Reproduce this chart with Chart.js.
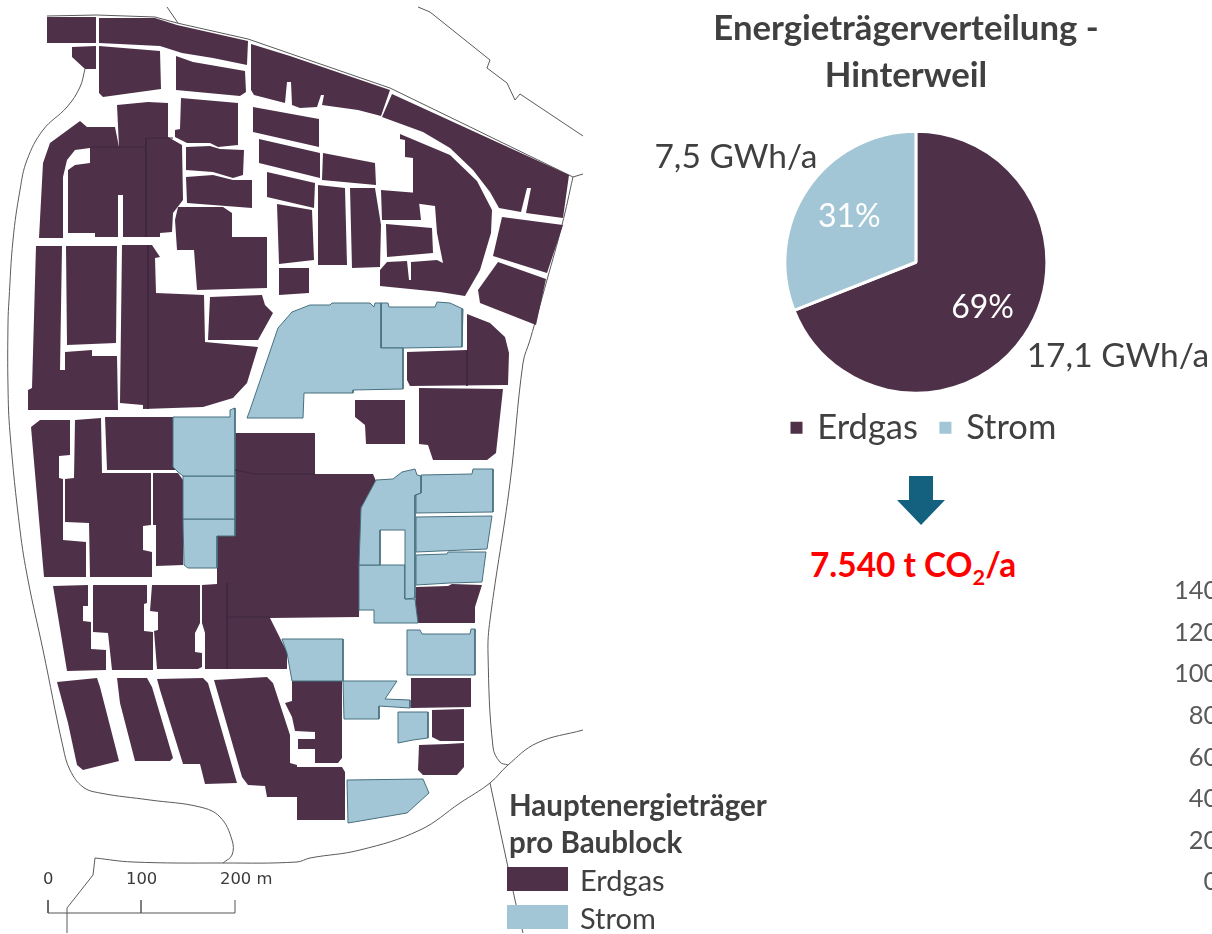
<!DOCTYPE html>
<html lang="de">
<head>
<meta charset="utf-8">
<title>Energieträgerverteilung - Hinterweil</title>
<script src="https://cdn.jsdelivr.net/npm/chart.js@4/dist/chart.umd.min.js"></script>
<style>
  html, body { margin: 0; padding: 0; background: #fff; overflow: hidden; }
  body { width: 1212px; height: 934px; position: relative; font-family: Lato, sans-serif; color: #404040; }
  canvas { position: absolute; }
  #mapChart { left: 0; top: 0; }
  #pieChart { left: 640px; top: 0; }
  #axisChart { left: 1174px; top: 570px; }
  .txt { position: absolute; white-space: nowrap; line-height: 1; }
  .title { left: 656px; width: 500px; text-align: center; font-weight: 700; font-size: 34.7px; }
  .swatch { position: absolute; left: 507px; width: 61px; height: 24px; }
  .scale { font-family: "DejaVu Sans", sans-serif; font-size: 16.4px; color: #3a3a3a; }
  #arrow { position: absolute; left: 897px; top: 476px; width: 48px; height: 49px; background: #14607f;
    clip-path: polygon(25% 0, 75% 0, 75% 49%, 100% 49%, 50% 100%, 0 49%, 25% 49%); }
  sub { font-size: 0.65em; line-height: 0; }
</style>
</head>
<body>
<canvas id="mapChart" width="600" height="934"></canvas>
<canvas id="pieChart" width="572" height="455"></canvas>
<canvas id="axisChart" width="300" height="330"></canvas>

<div class="txt title" style="top:10px">Energieträgerverteilung -</div>
<div class="txt title" style="top:57px">Hinterweil</div>
<div id="arrow"></div>
<div class="txt" style="left:810px;top:548px;font-size:33.4px;font-weight:700;color:#ff0000">7.540 t CO<sub>2</sub>/a</div>

<div class="txt" style="left:509px;top:790px;font-size:29.5px;font-weight:700">Hauptenergieträger</div>
<div class="txt" style="left:509px;top:827px;font-size:29.5px;font-weight:700">pro Baublock</div>
<div class="swatch" style="top:867px;background:#4e3049"></div>
<div class="swatch" style="top:905px;background:#a2c6d5"></div>
<div class="txt" style="left:580px;top:865px;font-size:29px">Erdgas</div>
<div class="txt" style="left:580px;top:903px;font-size:29px">Strom</div>

<div class="txt scale" style="left:43px;top:871px">0</div>
<div class="txt scale" style="left:126px;top:871px">100</div>
<div class="txt scale" style="left:220px;top:871px">200 m</div>

<script>
// pie values
const carriers = ["Erdgas", "Strom"];
const carrierShares = [69, 31];
const carrierGwh = ["17,1 GWh/a", "7,5 GWh/a"];

// tick labels of the chart that is cut off at the right edge
const axisTicks = [0, 20, 40, 60, 80, 100, 120, 140];

// map blocks
const erdgasBlocks = [
  [[47,17],[96,17],[96,43],[47,43]],
  [[99,18],[155,18],[177,25],[248,41],[247,65],[213,58],[182,53],[160,46],[99,43]],
  [[72,47],[96,46],[96,69],[85,69],[72,57]],
  [[99,46],[160,51],[161,89],[103,97],[99,93]],
  [[176,56],[193,62],[245,71],[246,92],[240,96],[176,90]],
  [[251,44],[290,56],[390,90],[381,116],[358,110],[322,105],[324,95],[321,95],[317,107],[300,108],[292,105],[291,82],[287,82],[285,103],[254,95],[251,90]],
  [[392,94],[569,175],[563,218],[526,213],[531,188],[527,188],[521,212],[499,208],[490,192],[473,170],[450,148],[423,132],[382,117]],
  [[400,134],[450,155],[477,181],[492,210],[491,233],[480,270],[465,296],[440,292],[380,286],[380,270],[387,262],[407,261],[409,280],[411,280],[411,262],[437,260],[443,263],[437,233],[435,206],[413,203],[413,158],[405,157],[405,140],[400,139]],
  [[502,217],[563,225],[547,273],[493,256]],
  [[498,262],[546,279],[536,325],[480,303],[478,290]],
  [[253,107],[319,119],[319,147],[253,132]],
  [[259,139],[320,153],[320,178],[259,163]],
  [[267,172],[315,183],[314,208],[267,197]],
  [[277,204],[312,210],[314,260],[279,264]],
  [[279,268],[309,268],[309,293],[279,295]],
  [[323,153],[375,163],[376,185],[322,180]],
  [[318,185],[345,188],[347,265],[318,265]],
  [[350,188],[375,188],[381,225],[380,267],[352,268]],
  [[381,190],[418,193],[421,220],[382,220]],
  [[386,224],[432,228],[433,253],[387,257]],
  [[80,121],[87,127],[115,127],[119,147],[90,148],[75,150],[67,160],[63,177],[63,238],[39,238],[43,163],[50,143]],
  [[117,105],[148,102],[168,103],[168,137],[182,145],[183,200],[173,213],[172,232],[160,233],[160,237],[123,237],[123,195],[118,195],[118,237],[95,237],[95,233],[68,233],[68,170],[75,165],[90,163],[90,147],[119,147]],
  [[181,98],[238,103],[238,145],[218,147],[210,143],[187,143],[175,137],[175,130],[180,129]],
  [[186,147],[210,146],[220,149],[244,150],[243,175],[233,178],[213,172],[186,170]],
  [[186,177],[213,175],[233,180],[252,180],[252,208],[187,203]],
  [[178,207],[223,207],[232,213],[232,237],[267,237],[267,288],[197,290],[194,250],[177,250],[175,220]],
  [[36,246],[62,246],[60,370],[65,370],[65,352],[92,350],[92,356],[117,356],[118,410],[28,410],[28,390],[32,388]],
  [[66,246],[117,246],[116,343],[67,345]],
  [[122,245],[152,245],[160,257],[155,258],[156,293],[204,295],[205,342],[258,347],[247,383],[233,398],[203,407],[143,409],[143,405],[120,403]],
  [[210,297],[262,295],[265,305],[273,313],[258,340],[208,340]],
  [[31,427],[40,420],[70,420],[70,455],[59,456],[59,478],[63,479],[63,540],[86,542],[86,577],[44,577]],
  [[75,420],[101,418],[102,473],[151,473],[151,525],[143,526],[143,550],[152,552],[152,577],[90,577],[89,523],[65,522],[65,479],[74,478]],
  [[105,417],[173,417],[173,467],[178,470],[107,470]],
  [[153,473],[178,473],[183,480],[183,565],[156,566],[156,525],[153,525]],
  [[202,585],[217,584],[217,536],[235,536],[235,433],[315,433],[315,474],[373,474],[376,481],[361,508],[359,617],[270,618],[280,638],[287,652],[287,669],[205,669],[205,633],[202,623]],
  [[416,587],[448,586],[452,584],[482,585],[475,607],[475,623],[418,623],[415,607]],
  [[407,352],[467,350],[467,314],[490,323],[505,337],[509,353],[508,385],[410,386],[407,380]],
  [[355,400],[405,400],[405,444],[366,444],[365,425],[355,417]],
  [[419,388],[503,389],[496,453],[487,460],[433,460],[428,445],[419,444]],
  [[53,586],[88,585],[88,606],[83,606],[83,621],[91,622],[91,649],[106,650],[106,670],[67,671]],
  [[93,585],[147,585],[147,603],[144,604],[144,631],[153,632],[153,670],[112,670],[108,633],[93,632]],
  [[152,585],[200,585],[200,623],[195,633],[195,652],[202,653],[202,667],[198,669],[157,669],[154,631],[158,630],[158,612],[150,611]],
  [[57,682],[97,678],[100,687],[119,761],[83,770],[77,765],[68,723]],
  [[117,678],[147,678],[152,687],[173,758],[170,761],[135,761],[120,703]],
  [[157,679],[203,678],[208,683],[237,783],[205,784],[200,764],[183,764],[160,690]],
  [[214,680],[267,677],[273,683],[290,735],[290,763],[297,765],[297,797],[267,797],[265,786],[248,785],[242,777]],
  [[297,767],[342,767],[345,772],[345,820],[297,820]],
  [[292,681],[342,681],[342,758],[338,763],[315,763],[315,749],[298,749],[298,739],[315,739],[315,732],[295,731],[292,717],[285,703],[292,701]],
  [[411,678],[471,678],[471,707],[411,708]],
  [[432,710],[464,709],[464,741],[440,741],[432,737]],
  [[419,745],[447,744],[464,743],[464,767],[457,775],[423,775],[418,770]]
];

const stromBlocks = [
  [[173,417],[230,417],[230,410],[235,408],[235,476],[183,476],[178,472],[173,467]],
  [[183,476],[235,476],[235,519],[183,519]],
  [[183,519],[235,519],[235,536],[217,536],[217,568],[188,568],[184,565]],
  [[376,480],[393,479],[402,472],[415,469],[417,475],[421,476],[421,493],[415,495],[415,598],[405,599],[405,565],[405,530],[380,530],[380,565],[359,565],[361,508]],
  [[359,565],[405,565],[405,599],[415,599],[418,623],[374,623],[374,610],[359,610]],
  [[421,475],[472,474],[473,469],[493,469],[493,512],[416,513],[416,495],[421,493]],
  [[416,517],[492,516],[487,549],[440,551],[416,552]],
  [[416,555],[447,554],[448,552],[486,552],[482,582],[450,583],[416,585]],
  [[247,418],[250,410],[278,328],[292,312],[310,305],[330,305],[332,303],[370,303],[374,307],[375,303],[381,303],[381,348],[403,348],[403,389],[353,390],[353,393],[304,393],[303,418]],
  [[381,303],[388,303],[389,307],[435,307],[437,302],[450,303],[463,309],[462,347],[403,348],[381,348]],
  [[347,780],[423,779],[429,793],[407,813],[348,823]],
  [[282,639],[343,639],[343,681],[292,681],[287,653]],
  [[343,681],[397,681],[385,699],[410,700],[410,708],[379,706],[379,719],[344,719]],
  [[398,712],[428,712],[428,738],[413,740],[398,743]],
  [[407,630],[420,630],[422,634],[470,634],[471,629],[475,629],[475,675],[407,675]]
];

// darker seams inside the erdgas blocks
const blockSeams = [
  [[90,147],[146,147]],
  [[146,138],[146,237]],
  [[146,138],[173,138]],
  [[148,245],[148,409]],
  [[235,470],[255,474],[315,474]],
  [[227,583],[227,669]],
  [[227,617],[270,617]],
  [[467,350],[467,386]]
];

const curvedRoads = [
  [[85,69],[80,87],[67,107],[43,130],[27,160],[20,190],[13,240],[9,300],[8,323],[8,387],[10,433],[20,530],[28,580],[43,650],[63,747],[70,770],[83,787],[100,793],[150,800],[200,807],[220,817],[232,840],[232,855],[223,863]],
  [[95,858],[133,862],[223,863],[297,862],[310,858],[360,850],[420,830],[460,803],[490,783],[508,765],[537,743],[583,730]],
  [[573,177],[562,225],[547,280],[530,340],[523,363],[510,483],[490,620],[488,653],[493,747],[500,762],[508,765]]
];

const roads = [
  [[67,933],[67,908],[93,875],[95,858]],
  [[583,174],[573,177]],
  [[490,783],[500,830],[515,900],[523,933]],
  [[47,16],[97,15],[155,17],[177,23],[248,39],[300,57],[390,88],[573,177]],
  [[167,7],[178,23]],
  [[418,7],[430,12],[490,60],[487,68],[507,83],[515,100],[520,94],[583,136]]
];

const scaleBar = [
  [[48,900],[48,913],[141,913],[141,900],[141,913],[235,913],[235,900]]
];

const DARK = "#4e3049";
const LIGHT = "#a2c6d5";

function toPoints(list) {
  return list.map(p => ({x: p[0], y: p[1]}));
}

function blockSet(list, color, edge) {
  return list.map(b => ({
    data: toPoints(b.concat([b[0]])),
    fill: "shape",
    backgroundColor: color,
    borderColor: edge,
    borderWidth: edge ? 1 : 0,
    pointRadius: 0,
    tension: 0
  }));
}

function lineSet(list, color, width, tension) {
  return list.map(l => ({
    data: toPoints(l),
    borderColor: color,
    borderWidth: width,
    pointRadius: 0,
    tension: tension || 0,
    fill: false
  }));
}

new Chart("mapChart", {
  type: "scatter",
  data: {
    datasets: [].concat(
      lineSet(scaleBar, "#555", 1),
      lineSet(blockSeams, "#3f2740", 1),
      blockSet(stromBlocks, LIGHT, "#47707f"),
      blockSet(erdgasBlocks, DARK, null),
      lineSet(roads, "#5a5a5a", 1),
      lineSet(curvedRoads, "#5a5a5a", 1, 0.4)
    )
  },
  options: {
    responsive: false,
    animation: false,
    showLine: true,
    layout: {padding: 0},
    scales: {
      x: {type: "linear", min: 0, max: 600, display: false},
      y: {type: "linear", min: 0, max: 934, reverse: true, display: false}
    },
    plugins: {legend: {display: false}, tooltip: {enabled: false}}
  }
});

// percent labels inside the slices, GWh labels outside
const gwhOffset = [[202, 94], [-180, -105]];

const pieLabels = {
  id: "pieLabels",
  afterDatasetsDraw(chart) {
    const ctx = chart.ctx;
    const arcs = chart.getDatasetMeta(0).data;
    ctx.save();
    ctx.textAlign = "center";
    ctx.textBaseline = "middle";
    arcs.forEach((arc, i) => {
      const mid = (arc.startAngle + arc.endAngle) / 2;
      const r = arc.outerRadius * 0.615;
      ctx.font = "32px Lato";
      ctx.fillStyle = "#fff";
      ctx.fillText(carrierShares[i] + "%", arc.x + Math.cos(mid) * r, arc.y + Math.sin(mid) * r);
      ctx.font = "33.5px Lato";
      ctx.fillStyle = "#404040";
      ctx.fillText(carrierGwh[i], arc.x + gwhOffset[i][0], arc.y + gwhOffset[i][1]);
    });
    ctx.restore();
  }
};

new Chart("pieChart", {
  type: "pie",
  data: {
    labels: carriers,
    datasets: [{
      data: carrierShares,
      backgroundColor: [DARK, LIGHT],
      borderColor: "#fff",
      borderWidth: 3,
      radius: 131,
      clip: false
    }]
  },
  plugins: [pieLabels],
  options: {
    responsive: false,
    animation: false,
    layout: {padding: {left: 129, right: 0, top: 138, bottom: 0}},
    plugins: {
      tooltip: {enabled: false},
      // empty box on the right: keeps the pie left of the legend's middle
      subtitle: {
        display: true,
        position: "right",
        text: " ",
        font: {size: 1},
        padding: {top: 74, bottom: 74}
      },
      legend: {
        position: "bottom",
        align: "start",
        labels: {
          usePointStyle: true,
          pointStyle: "rect",
          boxWidth: 7,
          boxHeight: 15,
          padding: 24,
          color: "#404040",
          font: {family: "Lato", size: 34.5}
        }
      }
    }
  }
});

new Chart("axisChart", {
  type: "bar",
  data: {labels: [], datasets: [{data: []}]},
  options: {
    responsive: false,
    animation: false,
    layout: {padding: {top: 21, bottom: 18}},
    scales: {
      x: {display: false},
      y: {
        min: axisTicks[0],
        max: axisTicks[axisTicks.length - 1],
        grid: {display: false},
        border: {display: false},
        afterBuildTicks(axis) {
          axis.ticks = axisTicks.map(v => ({value: v}));
        },
        ticks: {
          color: "#595959",
          font: {family: "Lato", size: 25.5},
          padding: 0
        }
      }
    },
    plugins: {legend: {display: false}, tooltip: {enabled: false}}
  }
});
</script>
</body>
</html>
